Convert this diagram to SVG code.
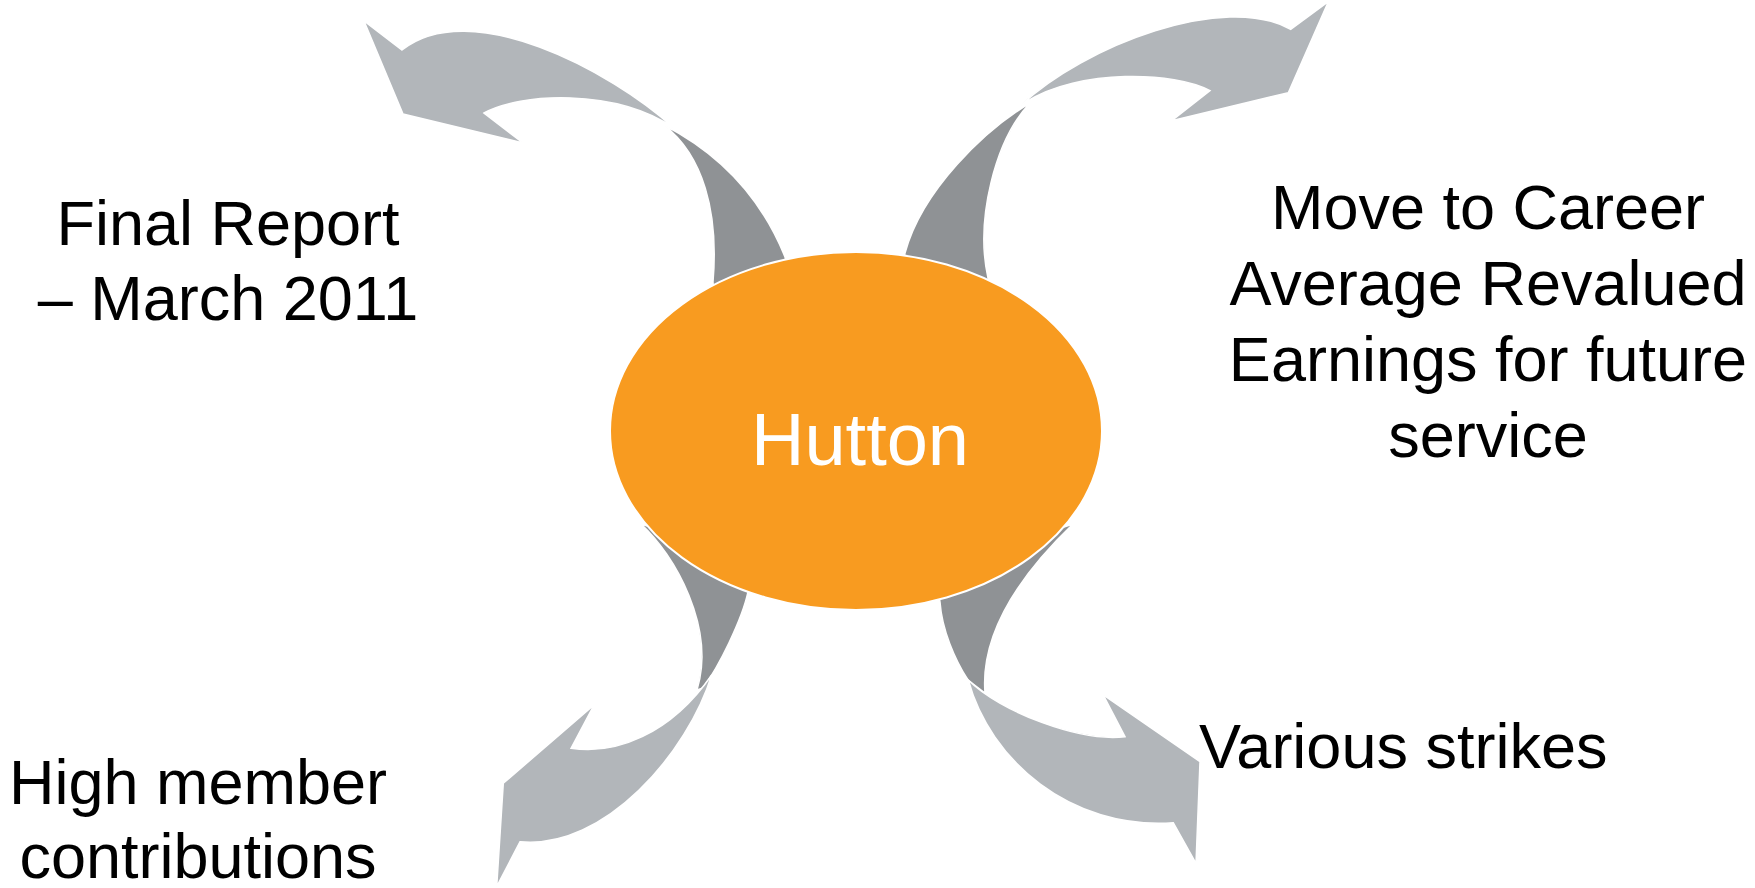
<svg xmlns="http://www.w3.org/2000/svg" width="1755" height="888" viewBox="0 0 1755 888">
  <style>
    .light { fill: #B2B6BA; stroke: #FFFFFF; stroke-width: 1.5; stroke-linejoin: miter; }
    .dark { fill: #8F9295; stroke: #FFFFFF; stroke-width: 1.5; }
    .label { font-family: "Liberation Sans", Arial, sans-serif; font-size: 63px; fill: #000000; }
    .center { font-family: "Liberation Sans", Arial, sans-serif; font-size: 74px; fill: #FFFFFF; }
  </style>
  <rect x="0" y="0" width="1755" height="888" fill="#FFFFFF"/>
  <g id="connectors">
    <g id="arrow-top-left">
      <path class="dark" d="M664,125 C722,155 761.7,199 785,257 L795,300 L715,310 L713,282 C719,211 702.7,155 664,125 Z"/>
      <path class="light" d="M674,128 C610,70 470,-4 402,50 L364,21 L403,114 L523,143 L484,113 C520,93 615,88 674,128 Z"/>
    </g>
    <g id="arrow-top-right">
      <path class="dark" d="M1030,103 C985,130 922,190 905,253 L900,290 L990,300 L988,278 C975,220 995,140 1030,103 Z"/>
      <path class="light" d="M1020,106 C1085,45 1225,-8 1290.7,29.3 L1328.3,1.7 L1288.3,92.7 L1171.7,120.7 L1210,90.7 C1175,72 1080,68 1026,102 Z"/>
    </g>
    <g id="arrow-bottom-left">
      <path class="dark" d="M641,524 C675,555 716,628 697,690 L703,688 C718,668 742,620 748,592 L755,560 Z"/>
      <path class="light" d="M711.7,675 C688,752 605,850 520,841.7 L496.7,886.7 L503.3,783.3 L594,705 L571,748.3 C615,755 670,735 711.7,675 Z"/>
    </g>
    <g id="arrow-bottom-right">
      <path class="dark" d="M1073,524 C1025,570 980,630 985,693 L968,680 C955,660 942,630 940,602 L935,570 Z"/>
      <path class="light" d="M968.3,680 C990,760 1070,830 1173.3,822.7 L1196,863.3 L1200,761.7 L1103.3,695 L1125,736.7 C1080,742 1000,712 968.3,680 Z"/>
    </g>
  </g>
  <g id="node-hutton">
    <ellipse cx="856" cy="431" rx="246" ry="179" fill="#F89B20" stroke="#FFFFFF" stroke-width="2"/>
    <text class="center" x="860" y="465" text-anchor="middle">Hutton</text>
  </g>
  <g id="node-final-report">
    <text class="label" text-anchor="middle"><tspan x="228" y="245">Final Report</tspan><tspan x="228" y="320">– March 2011</tspan></text>
  </g>
  <g id="node-care">
    <text class="label" text-anchor="middle"><tspan x="1488" y="229">Move to Career</tspan><tspan x="1488" y="305">Average Revalued</tspan><tspan x="1488" y="381">Earnings for future</tspan><tspan x="1488" y="457">service</tspan></text>
  </g>
  <g id="node-strikes">
    <text class="label" x="1199" y="768">Various strikes</text>
  </g>
  <g id="node-contributions">
    <text class="label" text-anchor="middle"><tspan x="198" y="804">High member</tspan><tspan x="198" y="878">contributions</tspan></text>
  </g>
</svg>
